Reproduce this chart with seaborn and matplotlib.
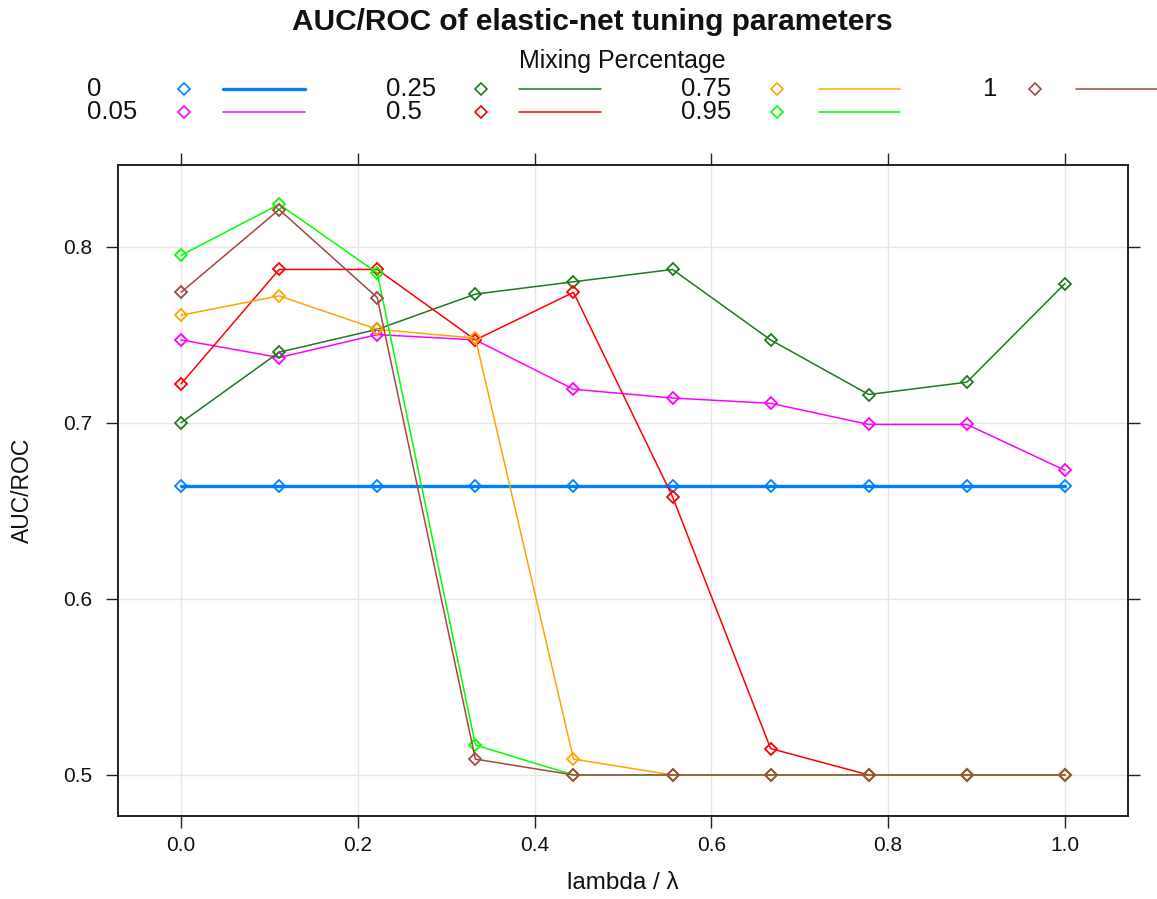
import matplotlib
matplotlib.use("Agg")
import matplotlib.pyplot as plt
from matplotlib.lines import Line2D
import seaborn as sns
import pandas as pd

# Tuning grid (lambda) and mean AUC/ROC for each elastic-net mixing percentage
lambda_grid = [0.0, 0.111, 0.222, 0.333, 0.444, 0.556, 0.667, 0.778, 0.889, 1.0]
mix_levels = ["0", "0.05", "0.25", "0.5", "0.75", "0.95", "1"]

auc_mix_0 = [0.664, 0.664, 0.664, 0.664, 0.664, 0.664, 0.664, 0.664, 0.664, 0.664]
auc_mix_005 = [0.747, 0.737, 0.750, 0.747, 0.719, 0.714, 0.711, 0.699, 0.699, 0.673]
auc_mix_025 = [0.700, 0.740, 0.753, 0.773, 0.780, 0.787, 0.747, 0.716, 0.723, 0.779]
auc_mix_05 = [0.722, 0.787, 0.787, 0.747, 0.774, 0.658, 0.515, 0.500, 0.500, 0.500]
auc_mix_075 = [0.761, 0.772, 0.753, 0.748, 0.509, 0.500, 0.500, 0.500, 0.500, 0.500]
auc_mix_095 = [0.795, 0.824, 0.785, 0.517, 0.500, 0.500, 0.500, 0.500, 0.500, 0.500]
auc_mix_1 = [0.774, 0.821, 0.771, 0.509, 0.500, 0.500, 0.500, 0.500, 0.500, 0.500]

x_ticks = [0.0, 0.2, 0.4, 0.6, 0.8, 1.0]
y_ticks = [0.5, 0.6, 0.7, 0.8]

series = [auc_mix_0, auc_mix_005, auc_mix_025, auc_mix_05,
          auc_mix_075, auc_mix_095, auc_mix_1]
colors = ["#0080ff", "#ff00ff", "#1f7a1f", "#ff0000", "#ffa500", "#00ff00", "#a84545"]
widths = [2.4, 1.1, 1.1, 1.1, 1.1, 1.1, 1.1]

frames = []
for level, vals in zip(mix_levels, series):
    frames.append(pd.DataFrame({"lambda": lambda_grid, "auc": vals, "mix": level}))
df = pd.concat(frames, ignore_index=True)

sns.set_style("white")
plt.rcParams["font.family"] = ["Liberation Sans", "DejaVu Sans"]

W, H = 1157, 899
fig = plt.figure(figsize=(W / 100, H / 100), dpi=100)
ax = fig.add_axes([118 / W, 1 - 816 / H, 1010 / W, 651 / H])

for level, col, lw in zip(mix_levels, colors, widths):
    sub = df[df["mix"] == level]
    sns.lineplot(data=sub, x="lambda", y="auc", ax=ax, color=col, linewidth=lw,
                 marker="D", markersize=6, markerfacecolor="none",
                 markeredgecolor=col, markeredgewidth=1.3, legend=False)

ax.set_xlim(-0.0713, 1.0713)
ax.set_ylim(0.4767, 0.8463)
ax.set_xticks(x_ticks)
ax.set_yticks(y_ticks)
ax.set_xticklabels([f"{t:.1f}" for t in x_ticks])
ax.set_yticklabels([f"{t:.1f}" for t in y_ticks])
ax.grid(True, color="#e6e6e6", linewidth=1.0)
ax.set_axisbelow(True)

for sp in ax.spines.values():
    sp.set_color("#222222")
    sp.set_linewidth(1.4)

ax.tick_params(axis="both", which="both", direction="out", length=8.5, width=1.0,
               color="#222222", labelsize=15, labelcolor="#111111",
               top=True, right=True, bottom=True, left=True,
               labeltop=False, labelright=False)
ax.tick_params(axis="x", pad=6)
ax.tick_params(axis="y", pad=10)

ax.set_xlabel("lambda / λ", fontsize=17.5, color="#111111", va="center")
ax.set_ylabel("AUC/ROC", fontsize=16.5, color="#111111", va="center")
ax.xaxis.set_label_coords(0.5, -0.103)
ax.yaxis.set_label_coords(-0.095, 0.5)


def fx(px):
    return px / W


def fy(py):
    return 1 - py / H


fig.text(fx(592), fy(22), "AUC/ROC of elastic-net tuning parameters",
         ha="center", va="center", fontsize=21.5, fontweight="bold", color="#111111")
fig.text(fx(622), fy(61), "Mixing Percentage", ha="center", va="center",
         fontsize=18, color="#111111")

# Key: label, symbol, then line sample, laid out in columns of two rows
col_label_x = [87, 386, 681, 983]
col_marker_x = [184, 481, 777, 1035]
col_line_x = [(223, 305), (519, 601), (819, 900), (1076, 1157)]
row_y = [89, 112]

for i, (level, col, lw) in enumerate(zip(mix_levels, colors, widths)):
    c, r = divmod(i, 2)
    y = fy(row_y[r])
    fig.text(fx(col_label_x[c]), y, level, ha="left", va="center",
             fontsize=18.5, color="#111111")
    fig.add_artist(Line2D([fx(col_marker_x[c])], [y], transform=fig.transFigure,
                          marker="D", markersize=6, markerfacecolor="none",
                          markeredgecolor=col, markeredgewidth=1.2, linestyle="none"))
    x0, x1 = col_line_x[c]
    fig.add_artist(Line2D([fx(x0), fx(x1)], [y, y], transform=fig.transFigure,
                          color=col, linewidth=lw))

fig.savefig("out.png", dpi=100)
